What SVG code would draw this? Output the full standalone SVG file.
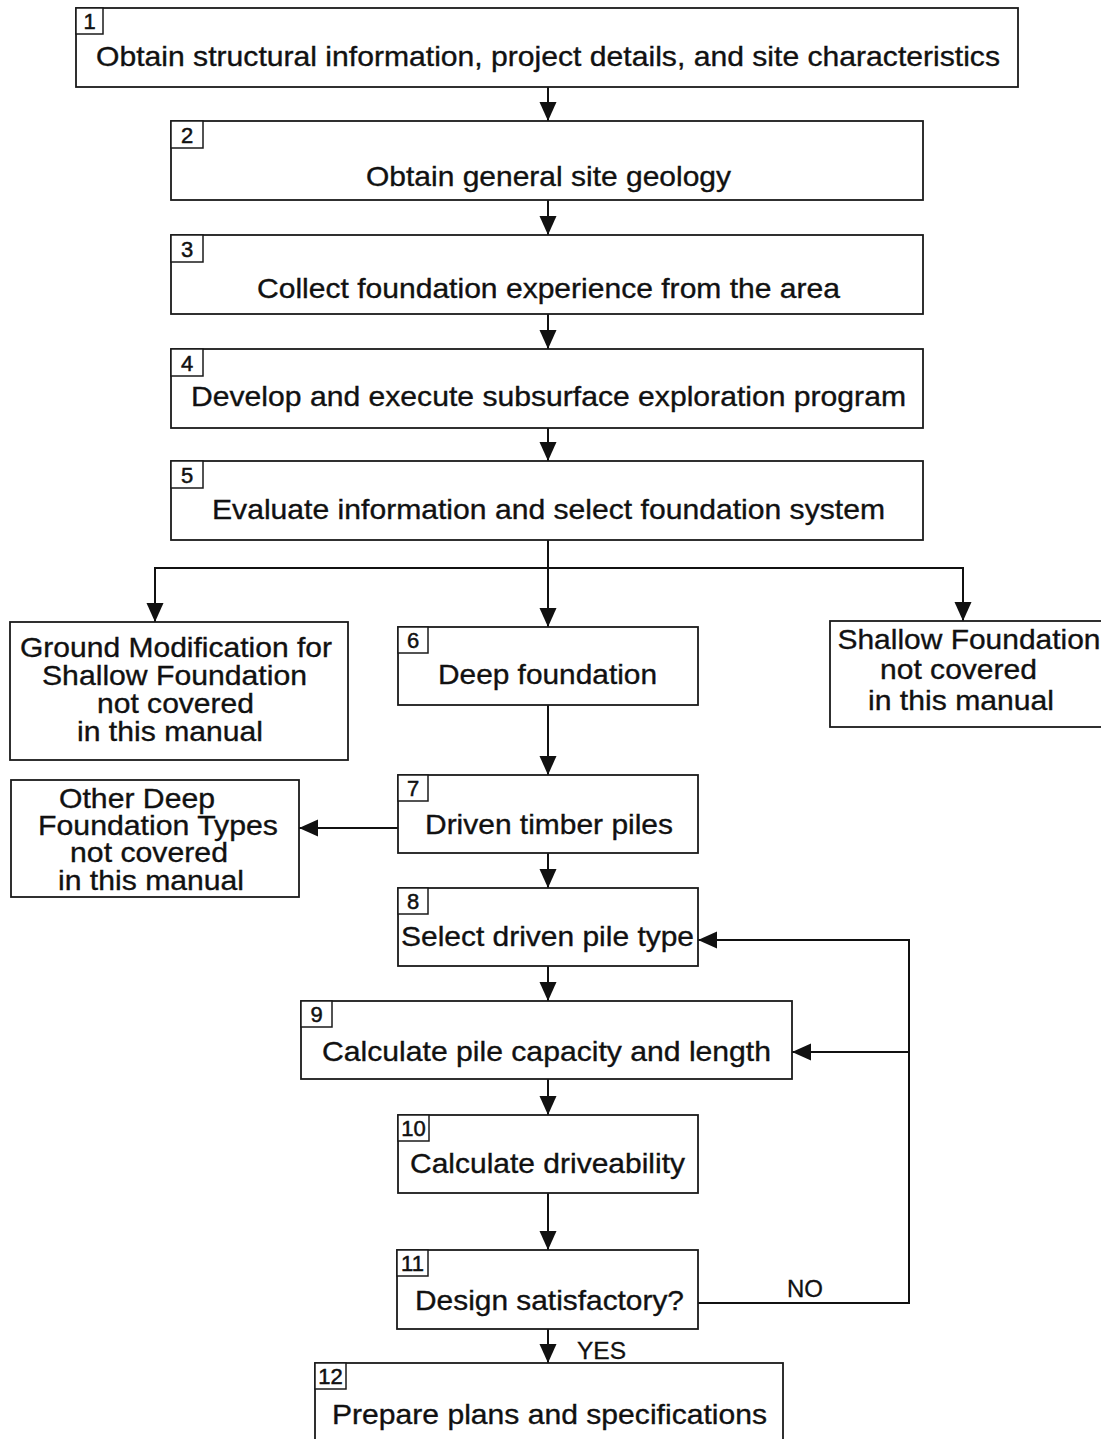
<svg xmlns="http://www.w3.org/2000/svg" width="1101" height="1439" viewBox="0 0 1101 1439">
<style>
.box{fill:#fff;stroke:#1a1a1a;stroke-width:1.8}
.num{fill:#fff;stroke:#1a1a1a;stroke-width:1.5}
.t{font-family:"Liberation Sans",Arial,sans-serif;font-size:28.5px;fill:#111;stroke:#111;stroke-width:0.35;text-anchor:middle}
.n{font-family:"Liberation Sans",Arial,sans-serif;font-size:22px;fill:#111;stroke:#111;stroke-width:0.5;text-anchor:middle}
.l{font-family:"Liberation Sans",Arial,sans-serif;font-size:24px;fill:#111;stroke:#111;stroke-width:0.3}
.c{fill:none;stroke:#111;stroke-width:2}
</style>
<defs>
<marker id="ah" markerUnits="userSpaceOnUse" markerWidth="22" markerHeight="20" refX="19" refY="8.5" orient="auto">
<path d="M0,0 L19,8.5 L0,17 z" fill="#111"/>
</marker>
</defs>
<rect width="1101" height="1439" fill="#fff"/>
<g id="connectors">
<line class="c" x1="548" y1="87" x2="548" y2="121" marker-end="url(#ah)"/>
<line class="c" x1="548" y1="200" x2="548" y2="235" marker-end="url(#ah)"/>
<line class="c" x1="548" y1="314" x2="548" y2="349" marker-end="url(#ah)"/>
<line class="c" x1="548" y1="428" x2="548" y2="461" marker-end="url(#ah)"/>
<line class="c" x1="548" y1="540" x2="548" y2="627" marker-end="url(#ah)"/>
<polyline class="c" points="548,568 155,568 155,622" marker-end="url(#ah)"/>
<polyline class="c" points="548,568 963,568 963,621" marker-end="url(#ah)"/>
<line class="c" x1="548" y1="705" x2="548" y2="775" marker-end="url(#ah)"/>
<line class="c" x1="398" y1="828" x2="299" y2="828" marker-end="url(#ah)"/>
<line class="c" x1="548" y1="853" x2="548" y2="888" marker-end="url(#ah)"/>
<line class="c" x1="548" y1="966" x2="548" y2="1001" marker-end="url(#ah)"/>
<line class="c" x1="548" y1="1079" x2="548" y2="1115" marker-end="url(#ah)"/>
<line class="c" x1="548" y1="1193" x2="548" y2="1250" marker-end="url(#ah)"/>
<polyline class="c" points="698,1303 909,1303 909,940 698,940" marker-end="url(#ah)"/>
<line class="c" x1="909" y1="1052" x2="792" y2="1052" marker-end="url(#ah)"/>
<line class="c" x1="548" y1="1329" x2="548" y2="1363" marker-end="url(#ah)"/>
<text class="l" x="787" y="1297" textLength="36" lengthAdjust="spacingAndGlyphs">NO</text>
<text class="l" x="577" y="1359" textLength="49" lengthAdjust="spacingAndGlyphs">YES</text>
</g>
<g id="n1">
<rect class="box" x="76" y="8" width="942" height="79"/>
<rect class="num" x="76" y="8" width="27" height="26"/>
<text class="n" x="89.5" y="29">1</text>
<text class="t" x="548" y="66" textLength="904" lengthAdjust="spacingAndGlyphs">Obtain structural information, project details, and site characteristics</text>
</g>
<g id="n2">
<rect class="box" x="171" y="121" width="752" height="79"/>
<rect class="num" x="171" y="121" width="32" height="27"/>
<text class="n" x="187" y="143">2</text>
<text class="t" x="548.5" y="186" textLength="365" lengthAdjust="spacingAndGlyphs">Obtain general site geology</text>
</g>
<g id="n3">
<rect class="box" x="171" y="235" width="752" height="79"/>
<rect class="num" x="171" y="235" width="32" height="27"/>
<text class="n" x="187" y="257">3</text>
<text class="t" x="548.5" y="298" textLength="583" lengthAdjust="spacingAndGlyphs">Collect foundation experience from the area</text>
</g>
<g id="n4">
<rect class="box" x="171" y="349" width="752" height="79"/>
<rect class="num" x="171" y="349" width="32" height="27"/>
<text class="n" x="187" y="371">4</text>
<text class="t" x="548.5" y="406" textLength="715" lengthAdjust="spacingAndGlyphs">Develop and execute subsurface exploration program</text>
</g>
<g id="n5">
<rect class="box" x="171" y="461" width="752" height="79"/>
<rect class="num" x="171" y="461" width="32" height="27"/>
<text class="n" x="187" y="483">5</text>
<text class="t" x="548.5" y="519" textLength="673" lengthAdjust="spacingAndGlyphs">Evaluate information and select foundation system</text>
</g>
<g id="ground">
<rect class="box" x="10" y="622" width="338" height="138"/>
<text class="t" x="176" y="657" textLength="312" lengthAdjust="spacingAndGlyphs">Ground Modification for</text>
<text class="t" x="174.5" y="685" textLength="265" lengthAdjust="spacingAndGlyphs">Shallow Foundation</text>
<text class="t" x="175.5" y="713" textLength="157" lengthAdjust="spacingAndGlyphs">not covered</text>
<text class="t" x="170" y="741" textLength="186" lengthAdjust="spacingAndGlyphs">in this manual</text>
</g>
<g id="n6">
<rect class="box" x="398" y="627" width="300" height="78"/>
<rect class="num" x="398" y="627" width="30" height="26"/>
<text class="n" x="413" y="648">6</text>
<text class="t" x="547.5" y="684" textLength="219" lengthAdjust="spacingAndGlyphs">Deep foundation</text>
</g>
<g id="shallow">
<rect class="box" x="830" y="621" width="280" height="106"/>
<text class="t" x="969" y="649" textLength="263" lengthAdjust="spacingAndGlyphs">Shallow Foundation</text>
<text class="t" x="958.5" y="679" textLength="157" lengthAdjust="spacingAndGlyphs">not covered</text>
<text class="t" x="961" y="710" textLength="186" lengthAdjust="spacingAndGlyphs">in this manual</text>
</g>
<g id="n7">
<rect class="box" x="398" y="775" width="300" height="78"/>
<rect class="num" x="398" y="775" width="30" height="26"/>
<text class="n" x="413" y="796">7</text>
<text class="t" x="549" y="834" textLength="248" lengthAdjust="spacingAndGlyphs">Driven timber piles</text>
</g>
<g id="other">
<rect class="box" x="11" y="780" width="288" height="117"/>
<text class="t" x="137" y="808" textLength="156" lengthAdjust="spacingAndGlyphs">Other Deep</text>
<text class="t" x="158" y="835" textLength="240" lengthAdjust="spacingAndGlyphs">Foundation Types</text>
<text class="t" x="149" y="862" textLength="158" lengthAdjust="spacingAndGlyphs">not covered</text>
<text class="t" x="151" y="890" textLength="186" lengthAdjust="spacingAndGlyphs">in this manual</text>
</g>
<g id="n8">
<rect class="box" x="398" y="888" width="300" height="78"/>
<rect class="num" x="398" y="888" width="30" height="26"/>
<text class="n" x="413" y="909">8</text>
<text class="t" x="547.5" y="946" textLength="293" lengthAdjust="spacingAndGlyphs">Select driven pile type</text>
</g>
<g id="n9">
<rect class="box" x="301" y="1001" width="491" height="78"/>
<rect class="num" x="301" y="1001" width="31" height="26"/>
<text class="n" x="316.5" y="1022">9</text>
<text class="t" x="546.5" y="1061" textLength="449" lengthAdjust="spacingAndGlyphs">Calculate pile capacity and length</text>
</g>
<g id="n10">
<rect class="box" x="398" y="1115" width="300" height="78"/>
<rect class="num" x="398" y="1115" width="31" height="26"/>
<text class="n" x="413.5" y="1136">10</text>
<text class="t" x="547.5" y="1173" textLength="275" lengthAdjust="spacingAndGlyphs">Calculate driveability</text>
</g>
<g id="n11">
<rect class="box" x="397" y="1250" width="301" height="79"/>
<rect class="num" x="397" y="1250" width="31" height="26"/>
<text class="n" x="412.5" y="1271">11</text>
<text class="t" x="549.5" y="1310" textLength="269" lengthAdjust="spacingAndGlyphs">Design satisfactory?</text>
</g>
<g id="n12">
<rect class="box" x="315" y="1363" width="468" height="82"/>
<rect class="num" x="315" y="1363" width="31" height="26"/>
<text class="n" x="330.5" y="1384">12</text>
<text class="t" x="549.5" y="1424" textLength="435" lengthAdjust="spacingAndGlyphs">Prepare plans and specifications</text>
</g>
</svg>
